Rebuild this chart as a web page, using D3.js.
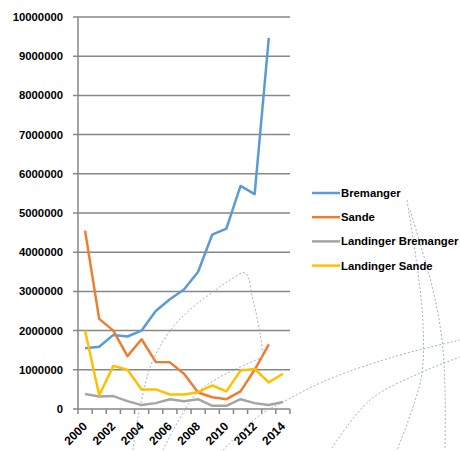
<!DOCTYPE html>
<html>
<head>
<meta charset="utf-8">
<script src="https://cdn.jsdelivr.net/npm/d3@7"></script>
<style>
  body { margin: 0; background: #fff; }
  text { font-family: "Liberation Sans", Arial, sans-serif; font-weight: bold; font-size: 11.3px; fill: #000; }
</style>
</head>
<body>
<svg width="460" height="451"></svg>
<script>
// data
var years = [2000, 2001, 2002, 2003, 2004, 2005, 2006, 2007, 2008, 2009, 2010, 2011, 2012, 2013, 2014];
var yTicks = [0, 1000000, 2000000, 3000000, 4000000, 5000000, 6000000, 7000000, 8000000, 9000000, 10000000];
var seriesNames = ["Bremanger", "Sande", "Landinger Bremanger", "Landinger Sande"];
var bremanger = [1550000, 1590000, 1890000, 1850000, 2000000, 2500000, 2800000, 3050000, 3500000, 4450000, 4600000, 5690000, 5480000, 9470000, null];
var sande = [4550000, 2300000, 2000000, 1350000, 1780000, 1200000, 1190000, 900000, 420000, 300000, 250000, 450000, 1000000, 1650000, null];
var landBremanger = [380000, 320000, 330000, 200000, 100000, 150000, 250000, 200000, 250000, 80000, 80000, 250000, 150000, 100000, 180000];
var landSande = [2000000, 350000, 1100000, 1000000, 500000, 500000, 370000, 370000, 430000, 600000, 450000, 980000, 1020000, 680000, 900000];
var colors = ["#5B9BD5", "#ED7D31", "#A5A5A5", "#FFC000"];

var allSeries = [bremanger, sande, landBremanger, landSande];

var svg = d3.select("svg");
var margin = {top: 17, left: 78, right: 170, bottom: 42};
var width = 460 - margin.left - margin.right,
    height = 451 - margin.top - margin.bottom;

var g = svg.append("g")
  .attr("transform", "translate(" + margin.left + "," + margin.top + ")");

var x = d3.scaleBand().domain(years).range([0, width]);
var y = d3.scaleLinear().domain([0, 10000000]).range([height, 0]);

// gridlines
g.selectAll(".grid")
  .data(yTicks)
  .enter()
  .append("line")
    .attr("x1", -5)
    .attr("x2", width)
    .attr("y1", d => y(d))
    .attr("y2", d => y(d))
    .style("stroke", "#878787")
    .style("stroke-width", 1.5);

// y axis line + labels
g.append("line")
  .attr("x1", 0).attr("x2", 0)
  .attr("y1", 0).attr("y2", height)
  .style("stroke", "#878787").style("stroke-width", 1.5);

g.selectAll(".ylab")
  .data(yTicks)
  .enter()
  .append("text")
    .attr("x", -15)
    .attr("y", d => y(d))
    .attr("dy", "0.36em")
    .attr("text-anchor", "end")
    .text(d => d);

// x axis ticks between categories
var bounds = years.map(d => x(d)).concat([width]);
g.selectAll(".xtick")
  .data(bounds)
  .enter()
  .append("line")
    .attr("x1", d => d).attr("x2", d => d)
    .attr("y1", height).attr("y2", height + 5)
    .style("stroke", "#878787").style("stroke-width", 1.5);

g.selectAll(".xlab")
  .data(years.filter(d => d % 2 === 0))
  .enter()
  .append("text")
    .attr("text-anchor", "end")
    .attr("transform", d => "translate(" + (x(d) + x.bandwidth() / 2 - 3) + "," + (height + 12) + ") rotate(-45)")
    .attr("dy", "0.7em")
    .style("font-size", "12px")
    .text(d => d);

// decorative dotted arcs in the background of the picture
var decor = [
  [[133, 450], [140, 407], [153, 360], [173, 327], [193, 307], [213, 292], [230, 280], [245, 273], [253, 300], [260, 333], [263, 357]],
  [[163, 450], [180, 418], [197, 393], [220, 377], [263, 357]],
  [[223, 450], [260, 415], [283, 402], [327, 380], [393, 357], [460, 340]],
  [[332, 448], [370, 400], [420, 373], [460, 357]],
  [[407, 200], [418, 273], [423, 323], [422, 373], [413, 407], [397, 450]],
  [[410, 210], [433, 290], [442, 340], [445, 390], [445, 450]]
];
var decoLine = d3.line().curve(d3.curveCatmullRom);
svg.selectAll(".decor")
  .data(decor)
  .enter()
  .append("path")
    .attr("d", decoLine)
    .style("fill", "none")
    .style("stroke", "#9db3c4")
    .style("stroke-width", 1)
    .style("stroke-dasharray", "2,2");

// series lines
var line = d3.line()
  .defined(d => d != null)
  .x((d, i) => x(years[i]) + x.bandwidth() / 2)
  .y(d => y(d));

g.selectAll(".series")
  .data(allSeries)
  .enter()
  .append("path")
    .attr("d", line)
    .style("fill", "none")
    .style("stroke", (d, i) => colors[i])
    .style("stroke-width", 2.5)
    .style("stroke-linejoin", "round");

// legend
var legend = svg.append("g").attr("transform", "translate(312,193)");
var items = legend.selectAll("g")
  .data(seriesNames)
  .enter()
  .append("g")
    .attr("transform", (d, i) => "translate(0," + i * 24.2 + ")");
items.append("line")
  .attr("x1", 0).attr("x2", 28)
  .style("stroke", (d, i) => colors[i])
  .style("stroke-width", 2.5);
items.append("text")
  .attr("x", 29)
  .attr("dy", "0.36em")
  .text(d => d);
</script>
</body>
</html>
